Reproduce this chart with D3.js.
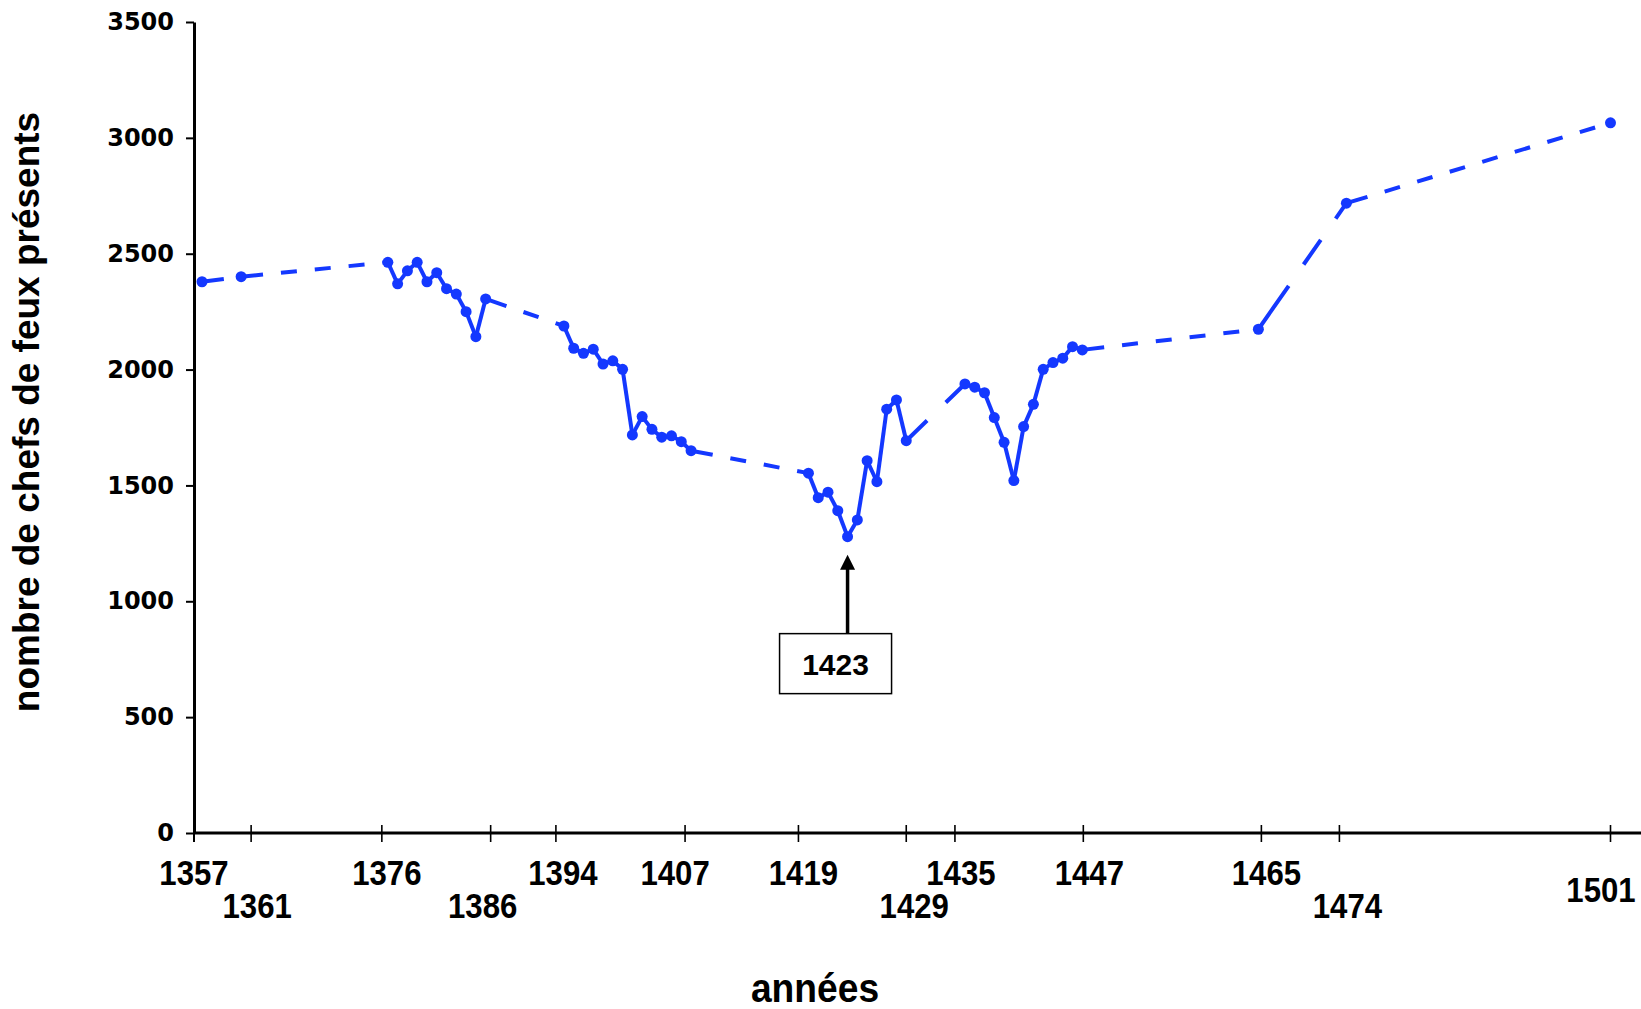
<!DOCTYPE html>
<html>
<head>
<meta charset="utf-8">
<script src="https://cdn.jsdelivr.net/npm/d3@7"></script>
<style>
  body { margin: 0; background: #fff; }
  svg { display: block; }
</style>
</head>
<body>
<svg id="chart"></svg>
<script>
// years with a count (gaps in the series are drawn dashed)
const years = [1357, 1361,
  1376, 1377, 1378, 1379, 1380, 1381, 1382, 1383, 1384, 1385, 1386,
  1394, 1395, 1396, 1397, 1398, 1399, 1400, 1401, 1402, 1403, 1404, 1405, 1406, 1407,
  1419, 1420, 1421, 1422, 1423, 1424, 1425, 1426, 1427, 1428, 1429,
  1435, 1436, 1437, 1438, 1439, 1440, 1441, 1442, 1443, 1444, 1445, 1446, 1447,
  1465, 1474, 1501];

// nombre de chefs de feux présents
const counts = [2379, 2401,
  2463, 2370, 2426, 2463, 2379, 2418, 2349, 2326, 2250, 2142, 2305,
  2188, 2092, 2070, 2088, 2024, 2038, 2001, 1718, 1797, 1742, 1708, 1714, 1689, 1650,
  1553, 1447, 1471, 1391, 1279, 1351, 1607, 1516, 1829, 1869, 1693,
  1938, 1924, 1900, 1793, 1686, 1521, 1754, 1850, 2001, 2030, 2049, 2099, 2085,
  2174, 2718, 3065];

const tickYears = [1357, 1361, 1376, 1386, 1394, 1407, 1419, 1429, 1435, 1447, 1465, 1474, 1501];
const yTicks = [0, 500, 1000, 1500, 2000, 2500, 3000, 3500];
const annotYear = 1423;

// label layout: second row, and small hand nudges (px) like the original
const lowerRow = [1361, 1386, 1429, 1474];
const middleRow = [1501];
const tickNudge = { 1361: 10, 1376: -6, 1386: 5, 1394: -8, 1407: -6, 1419: -10,
                    1435: -10, 1447: 1, 1465: 3, 1474: -7 };
const labelNudge = { 1361: 16, 1376: -1, 1386: -3, 1394: -1, 1407: -16, 1419: -5,
                     1429: 8, 1435: -4, 1447: 7, 1465: 8, 1474: 1 };

const width = 1641, height = 1009;
const plot = { left: 194, right: 1641, top: 22, bottom: 833 };
const blue = "#1438ff";

const svg = d3.select("#chart").attr("width", width).attr("height", height);

const x = d3.scaleLinear().domain([1357, 1501]).range([202, 1610.5]);
const y = d3.scaleLinear().domain([0, 3500]).range([plot.bottom, plot.top]);

// y axis
const yAxis = svg.append("g")
    .attr("transform", `translate(${plot.left},0)`)
    .call(d3.axisLeft(y).tickValues(yTicks).tickFormat(d3.format("d"))
        .tickSize(8).tickSizeOuter(0).tickPadding(12));
yAxis.select(".domain").attr("stroke", "#000").attr("stroke-width", 3);
yAxis.selectAll(".tick line").attr("stroke", "#000").attr("stroke-width", 2);
yAxis.selectAll(".tick text")
    .style("font-family", "'DejaVu Sans', sans-serif")
    .style("font-weight", "bold")
    .style("font-size", "24px")
    .attr("fill", "#000");

// x axis
svg.append("line")
    .attr("x1", plot.left - 1).attr("x2", plot.right)
    .attr("y1", plot.bottom).attr("y2", plot.bottom)
    .attr("stroke", "#000").attr("stroke-width", 3);

const tickX = d => x(d) + (tickNudge[d] || 0);
svg.append("g").selectAll("line")
    .data(tickYears.slice(1))
    .enter()
    .append("line")
    .attr("x1", tickX).attr("x2", tickX)
    .attr("y1", plot.bottom - 8).attr("y2", plot.bottom + 9)
    .attr("stroke", "#000").attr("stroke-width", 1.6);
svg.append("line")
    .attr("x1", plot.left).attr("x2", plot.left)
    .attr("y1", plot.bottom).attr("y2", plot.bottom + 9)
    .attr("stroke", "#000").attr("stroke-width", 2);

svg.append("g").selectAll("text")
    .data(tickYears)
    .enter()
    .append("text")
    .attr("transform", d => {
        const tx = d === tickYears[0] ? plot.left
            : Math.min(x(d) + (labelNudge[d] || 0), width - 40);
        const ty = lowerRow.includes(d) ? 918 : middleRow.includes(d) ? 902 : 885;
        return `translate(${tx},${ty}) scale(0.89,1)`;
    })
    .attr("text-anchor", "middle")
    .style("font-family", "'Liberation Sans', Arial, sans-serif")
    .style("font-weight", "bold")
    .style("font-size", "35px")
    .text(d => d);

// axis titles
svg.append("text")
    .attr("transform", "translate(39,412) rotate(-90)")
    .attr("text-anchor", "middle")
    .style("font-family", "'Liberation Sans', Arial, sans-serif")
    .style("font-weight", "bold")
    .style("font-size", "37px")
    .text("nombre de chefs de feux présents");

svg.append("text")
    .attr("transform", "translate(815,1002) scale(0.93,1)")
    .attr("text-anchor", "middle")
    .style("font-family", "'Liberation Sans', Arial, sans-serif")
    .style("font-weight", "bold")
    .style("font-size", "40px")
    .text("années");

// series
const data = years.map((yr, i) => ({ yr: yr, v: counts[i] }));

// dash pattern: first dash, then repeating gap/dash
function dashes(len, first, dash, gap) {
    const arr = [first];
    let total = first;
    let on = false;
    while (total < len) {
        const s = on ? dash : gap;
        arr.push(s);
        total += s;
        on = !on;
    }
    if (arr.length % 2 === 1) arr.push(gap);
    return arr.join(",");
}
const longDash = { 1429: 29, 1465: 53 };

const lines = svg.append("g");
d3.pairs(data).forEach(([a, b]) => {
    const x1 = x(a.yr), y1 = y(a.v), x2 = x(b.yr), y2 = y(b.v);
    const seg = lines.append("line")
        .attr("x1", x1).attr("y1", y1)
        .attr("x2", x2).attr("y2", y2)
        .attr("stroke", blue)
        .attr("stroke-width", 4);
    if (b.yr - a.yr > 1) {
        const len = Math.hypot(x2 - x1, y2 - y1);
        if (longDash[a.yr]) seg.attr("stroke-dasharray", dashes(len, longDash[a.yr], 30, 26));
        else seg.attr("stroke-dasharray", dashes(len, 22, 16, 18));
    }
});

svg.append("g")
    .selectAll("circle")
    .data(data)
    .enter()
    .append("circle")
    .attr("cx", d => x(d.yr))
    .attr("cy", d => y(d.v))
    .attr("r", 5.5)
    .style("fill", blue);

// annotation for the minimum
const low = data.find(d => d.yr === annotYear);
const ax = x(low.yr), tipY = y(low.v) + 18;
const boxTop = tipY + 79;
svg.append("line")
    .attr("x1", ax).attr("x2", ax)
    .attr("y1", boxTop).attr("y2", tipY + 12)
    .attr("stroke", "#000").attr("stroke-width", 3.5);
svg.append("path")
    .attr("d", `M${ax},${tipY} L${ax - 7.5},${tipY + 15} L${ax + 7.5},${tipY + 15} Z`)
    .attr("fill", "#000");
svg.append("rect")
    .attr("x", ax - 68).attr("y", boxTop)
    .attr("width", 112).attr("height", 60)
    .attr("fill", "#fff")
    .attr("stroke", "#000").attr("stroke-width", 1.5);
svg.append("text")
    .attr("x", ax - 12).attr("y", boxTop + 41)
    .attr("text-anchor", "middle")
    .style("font-family", "'Liberation Sans', Arial, sans-serif")
    .style("font-weight", "bold")
    .style("font-size", "30px")
    .text(annotYear);
</script>
</body>
</html>
